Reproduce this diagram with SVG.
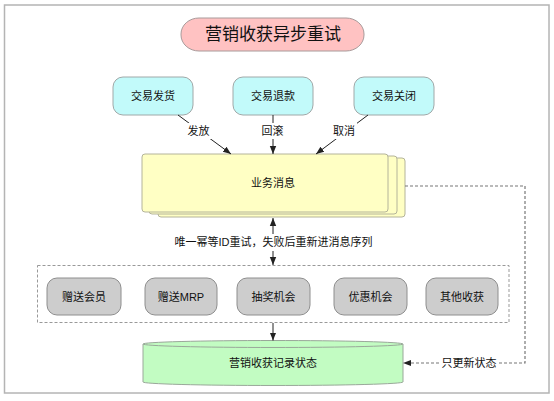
<svg xmlns="http://www.w3.org/2000/svg" width="554" height="401" viewBox="0 0 554 401">
<style>
text{font-family:"Liberation Sans","Noto Sans CJK SC",sans-serif;fill:#111;text-anchor:middle;dominant-baseline:central;font-size:11px}
.cyan{fill:#c2fafa;stroke:#a0a8a8;stroke-width:1}
.gray{fill:#cdcdcd;stroke:#8e8e8e;stroke-width:1}
.yel{fill:#ffffc4;stroke:#b4b49a;stroke-width:1}
.line{stroke:#222;stroke-width:1;fill:none}
.dash{stroke:#777;stroke-width:1.2;fill:none;stroke-dasharray:3 2}
.lbl{fill:#fff}
</style>
<defs>
<marker id="ah" viewBox="0 0 10 10" refX="10" refY="5" markerWidth="8" markerHeight="8" markerUnits="userSpaceOnUse" orient="auto">
<path d="M0,1 L10,5 L0,9 z" fill="#222"/>
</marker>
</defs>
<rect x="0" y="0" width="554" height="401" fill="#fff"/>
<rect id="frame" x="4.5" y="5" width="544.5" height="388" fill="#fff" stroke="#b4b4b4" stroke-width="1.5"/>

<g id="title">
<rect x="181" y="18" width="183" height="33" rx="18" ry="16" fill="#ffc2c2" stroke="#a89a9a"/>
<text x="273" y="34.5" style="font-size:17px">营销收获异步重试</text>
</g>

<g id="n-fahuo"><rect class="cyan" x="113" y="77" width="80" height="38" rx="10"/><text x="153" y="96">交易发货</text></g>
<g id="n-tuikuan"><rect class="cyan" x="233" y="77" width="80" height="38" rx="10"/><text x="273" y="96">交易退款</text></g>
<g id="n-guanbi"><rect class="cyan" x="354" y="77" width="80" height="38" rx="10"/><text x="394" y="96">交易关闭</text></g>

<g id="n-msg">
<rect class="yel" x="158" y="158" width="247" height="59" rx="3"/>
<rect class="yel" x="149" y="156" width="248" height="58" rx="3"/>
<rect class="yel" x="142" y="154" width="246" height="58" rx="3"/>
<text x="273" y="183">业务消息</text>
</g>

<g id="n-container">
<rect x="37.5" y="265.5" width="471.5" height="57" fill="none" stroke="#999" stroke-width="1" stroke-dasharray="3 2"/>
</g>
<g id="n-member"><rect class="gray" x="47" y="278" width="74" height="37" rx="10"/><text x="84" y="296.5">赠送会员</text></g>
<g id="n-mrp"><rect class="gray" x="145" y="278" width="72" height="37" rx="10"/><text x="181" y="296.5">赠送MRP</text></g>
<g id="n-lottery"><rect class="gray" x="237" y="278" width="73" height="37" rx="10"/><text x="273.5" y="296.5">抽奖机会</text></g>
<g id="n-coupon"><rect class="gray" x="334" y="278" width="73" height="37" rx="10"/><text x="370.5" y="296.5">优惠机会</text></g>
<g id="n-other"><rect class="gray" x="426" y="278" width="72" height="37" rx="10"/><text x="462" y="296.5">其他收获</text></g>

<g id="n-db">
<path d="M143,344 L143,382 A130,3.5 0 0 0 403,382 L403,344 A130,3.5 0 0 0 143,344 Z" fill="#c2fcc2" stroke="#9aa89a"/>
<path d="M143,344 A130,3.5 0 0 0 403,344" fill="none" stroke="#9aa89a"/>
<text x="273" y="363">营销收获记录状态</text>
</g>

<g id="connectors">
<line class="line" x1="178" y1="115" x2="231" y2="154" marker-end="url(#ah)"/>
<line class="line" x1="273" y1="115" x2="273" y2="154" marker-end="url(#ah)"/>
<line class="line" x1="368" y1="115" x2="316" y2="154" marker-end="url(#ah)"/>
<rect class="lbl" x="186" y="123" width="25" height="16"/>
<text x="198.5" y="131">发放</text>
<rect class="lbl" x="260" y="123" width="25" height="16"/>
<text x="272.5" y="131">回滚</text>
<rect class="lbl" x="331" y="123" width="26" height="16"/>
<text x="344" y="131">取消</text>

<line class="line" x1="273" y1="242" x2="273" y2="218" marker-end="url(#ah)"/>
<line class="line" x1="273" y1="242" x2="273" y2="265" marker-end="url(#ah)"/>
<rect class="lbl" x="170" y="234" width="207" height="17"/>
<text x="273.5" y="242">唯一幂等ID重试，失败后重新进消息序列</text>

<line class="line" x1="273" y1="323" x2="273" y2="340.5" marker-end="url(#ah)"/>

<polyline class="dash" points="405,186 525,186 525,363 497,363"/>
<text x="469" y="363">只更新状态</text>
<line class="dash" x1="439" y1="363" x2="410" y2="363"/>
<path d="M403,363 L411,360 L411,366 z" fill="#222"/>
</g>
</svg>
